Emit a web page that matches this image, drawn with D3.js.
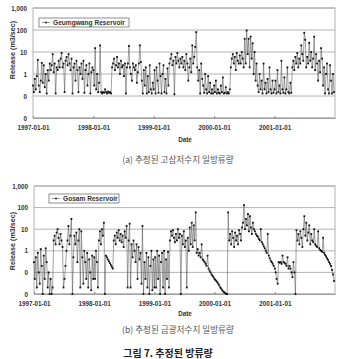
<!DOCTYPE html>
<html><head><meta charset="utf-8">
<script src="https://cdn.jsdelivr.net/npm/d3@7"></script>
<style>body{margin:0;background:#fff}svg{display:block}</style>
</head><body>
<svg id="c" width="338" height="359"></svg>
<script>
// ---- data ----
const years = [1997, 1998, 1999, 2000, 2001];
const xTickLabels = ["1997-01-01", "1998-01-01", "1999-01-01", "2000-01-01", "2001-01-01"];
const yTickValues = [0.01, 0.1, 1, 10, 100, 1000];
const seriesNames = ["Geumgwang Reservoir", "Gosam Reservoir"];
const captions = ["(a) 추정된 고삼저수지 일방류량", "(b) 추정된 금광저수지 일방류량"];
const figureTitle = "그림 7. 추정된 방류량";
const axisTitleY = "Release (m3/sec)";
const axisTitleX = "Date";

// Geumgwang Reservoir (panel a), ~6-day samples per year (m3/sec)
const geumgwang1997 = [0.3,0.15,0.6,0.2,0.8,4.4,0.3,0.15,0.5,3.2,0.4,2.5,0.25,1,0.13,1.5,0.5,3,1.5,2.5,8,1.2,3,0.13,2,1.5,4,2,5,9,2,3,0.15,4,6,2.5,8,3,1.5,5,0.13,2,3,0.5,4,1.5,0.15,2,1,3,0.6,4,0.14,1.5,2.5,0.3,1,3,0.13,1.2,2];
const geumgwang1998 = [1.5,0.3,15,0.2,1,0.15,0.4,20,0.15,0.13,0.15,0.14,0.2,0.15,0.13,0.16,0.14,0.15,0.13,2,3,5,1.5,2.5,6,2,3,1,4,2,2.5,0.8,3,0.13,2,3,19,2,1,0.5,3,2,1.5,2.5,0.4,1.2,3,20,3.5,0.5,0.13,1.5,0.3,2,0.13,0.8,0.15,2.5,0.2,0.13,0.4];
const geumgwang1999 = [0.2,1.5,0.13,2,0.5,0.14,3,0.8,0.13,1,2.5,0.15,0.6,0.13,1.8,0.3,3,5,8,2.5,4,0.12,6,3,9,4,2,5,3,6,2,4,1.5,8,3,0.5,2,5,1.2,20,3,6,17,80,2,0.5,1.5,0.13,3,0.6,0.3,0.14,1,0.2,0.13,0.8,0.15,0.4,0.13,0.2,0.13];
const geumgwang2000 = [0.3,0.15,0.5,0.13,0.2,0.14,0.13,0.3,0.15,0.7,0.13,0.14,0.25,0.13,0.15,0.13,0.2,2,5,8,3,6,1.5,9,4,3,7,3,10,5,2,40,3,95,8,40,2,50,5,25,1,10,0.5,3,0.3,0.15,1,0.2,0.5,0.13,3,0.2,0.4,0.13,0.6,0.15,2,0.2,0.13,0.5,0.14];
const geumgwang2001 = [0.2,0.5,0.13,1.5,0.15,0.3,0.13,4,0.2,0.14,0.7,0.13,0.2,2,0.15,0.13,0.4,0.14,2,4,1.5,6,3,9,2,5,3,20,8,4,75,36,2,6,3,26,4,10,2,5,50,1.5,8,3,0.5,4,1.2,15,5,0.3,2,0.13,1,3,0.2,0.13,2.5,0.5,0.13,1,0.15];

// Gosam Reservoir (panel b)
const gosam1997 = [0.3,0.05,0.5,0.02,0.8,0.1,0.03,1.2,0.2,0.01,0.6,0.05,1.3,0.3,0.02,0.1,0.01,0.05,0.01,0.02,3,5,2,7,10,4,2,6,3,1.5,0.02,0.05,0.2,1,3,14,2,5,30,0.01,0.5,5,2,7,0.3,3,10,0.02,8,0.5,0.03,1,0.3,0.05,0.8,0.02,0.4,0.1,0.015,0.6,0.05];
const gosam1998 = [0.5,0.05,1,0.3,0.02,3,8,2,10,5,20,0.01,0.6,0.5,0.4,0.33,0.27,0.22,0.18,0.15,3,5,2,7,4,9,3,6,2.5,5,1.5,8,4,14,0.02,3,18,0.02,2,0.5,3,1,0.3,2,0.05,1.5,0.4,0.8,0.03,14,0.01,0.3,0.05,0.8,0.02,0.5,0.01,0.2,1,0.015,0.4];
const gosam1999 = [0.02,0.5,0.02,1,0.05,0.6,0.01,0.3,0.8,0.02,1,0.01,0.4,0.05,0.9,0.02,3,8,5,9,4,2.5,6,3,10,4,6,0.01,5,2,8,1.5,3,0.02,4,1,12,2,20,1.5,15,3,60,0.8,1.2,0.6,0.8,0.5,2,0.4,0.35,0.3,0.25,0.2,0.6,0.15,0.12,0.1,0.08,0.07,0.06];
const gosam2000 = [0.05,0.045,0.04,0.035,0.03,0.025,0.02,0.018,0.015,0.013,0.012,0.011,0.01,0.01,60,3,6,2,8,4,1.5,7,3,5,2,9,6,3,12,20,130,10,30,15,50,8,40,12,6,20,10,8,6,5,4.5,3.5,3,10,2.5,2,1.6,1.3,1,0.8,6,0.6,0.45,0.35,0.3,0.25,0.2];
const gosam2001 = [0.15,0.1,0.05,0.03,0.3,0.28,0.3,0.25,0.6,0.3,0.28,0.25,0.2,0.5,0.15,0.2,0.15,0.1,0.06,0.3,0.1,0.01,9,3,6,2,8,4,1.5,10,40,5,20,3,7,15,2,6,3,2.5,10,2,1.7,1.5,8,1.3,1.1,1,0.9,4,0.8,0.65,0.55,0.45,0.38,0.3,0.25,0.2,0.13,0.08,0.04];

const geumgwangByYear = [geumgwang1997, geumgwang1998, geumgwang1999, geumgwang2000, geumgwang2001];
const gosamByYear = [gosam1997, gosam1998, gosam1999, gosam2000, gosam2001];

// ---- helpers ----
function toSeries(byYear) {
  const out = [];
  byYear.forEach((arr, k) => {
    const start = new Date(years[k], 0, 1);
    const n = arr.length;
    arr.forEach((v, i) => {
      out.push({ date: d3.timeDay.offset(start, Math.floor(i * 365 / n)), value: v });
    });
  });
  return out;
}

const svg = d3.select("#c");
const FONT = "'Liberation Sans', Arial, sans-serif";
const KFONT = "'Noto Sans CJK KR', sans-serif";

function panel(cfg) {
  const data = toSeries(cfg.byYear);
  const x = d3.scaleTime()
    .domain([new Date(1997, 0, 1), new Date(2002, 0, 1)])
    .range([cfg.left, cfg.right]);
  const y = d3.scaleLog().domain([0.01, 1000]).range([cfg.bottom, cfg.top]);
  const g = svg.append("g");

  // gridlines
  g.append("g").selectAll("line").data(yTickValues).join("line")
    .attr("x1", cfg.left).attr("x2", cfg.right)
    .attr("y1", d => y(d)).attr("y2", d => y(d))
    .attr("stroke", "#a0a0a0").attr("stroke-width", 0.8);

  // plot border
  g.append("rect").attr("x", cfg.left).attr("y", cfg.top)
    .attr("width", cfg.right - cfg.left).attr("height", cfg.bottom - cfg.top)
    .attr("fill", "none").attr("stroke", "#a0a0a0").attr("stroke-width", 0.8);

  // y axis
  const yAxis = d3.axisLeft(y).tickValues(yTickValues).tickFormat(d3.format(",.0f")).tickSize(0).tickPadding(6);
  const ya = g.append("g").attr("transform", `translate(${cfg.left},0)`).call(yAxis);
  ya.select(".domain").remove();
  ya.selectAll("text").attr("font-family", FONT).attr("font-weight", "bold")
    .attr("font-size", 6.3).attr("fill", "#333");

  // x axis
  const tickDates = xTickLabels.map(s => d3.timeParse("%Y-%m-%d")(s));
  const xAxis = d3.axisBottom(x).tickValues(tickDates)
    .tickFormat(d3.timeFormat("%Y-%m-%d")).tickSizeInner(-2).tickSizeOuter(0).tickPadding(8);
  const xa = g.append("g").attr("transform", `translate(0,${cfg.bottom})`).call(xAxis);
  xa.select(".domain").attr("stroke", "#a0a0a0");
  xa.selectAll(".tick line").attr("stroke", "#888");
  xa.selectAll("text").attr("font-family", FONT).attr("font-weight", "bold")
    .attr("font-size", 6.3).attr("fill", "#333");

  // series
  const line = d3.line().x(d => x(d.date)).y(d => y(d.value));
  g.append("path").datum(data).attr("d", line)
    .attr("fill", "none").attr("stroke", "#444").attr("stroke-width", 0.5);
  g.append("g").selectAll("rect").data(data).join("rect")
    .attr("x", d => x(d.date) - 0.9).attr("y", d => y(d.value) - 0.9)
    .attr("width", 1.8).attr("height", 1.8).attr("fill", "#111");

  // axis titles
  g.append("text").attr("transform", `translate(${cfg.yTitleX},${cfg.yTitleY}) rotate(-90)`)
    .attr("text-anchor", "middle").attr("dominant-baseline", "central")
    .attr("font-family", FONT).attr("font-weight", "bold").attr("font-size", 7.2)
    .attr("fill", "#333").text(axisTitleY);
  g.append("text").attr("x", cfg.dateX).attr("y", cfg.dateY)
    .attr("text-anchor", "middle").attr("dominant-baseline", "central")
    .attr("font-family", FONT).attr("font-weight", "bold").attr("font-size", 6.3)
    .attr("fill", "#333").text(axisTitleX);

  // legend
  const lg = g.append("g");
  lg.append("rect").attr("x", cfg.legX).attr("y", cfg.legY).attr("width", cfg.legW).attr("height", 9)
    .attr("fill", "#fff").attr("stroke", "#444").attr("stroke-width", 0.6);
  const ly = cfg.legY + 4.5;
  lg.append("line").attr("x1", cfg.legX + 3).attr("x2", cfg.legX + 11).attr("y1", ly).attr("y2", ly)
    .attr("stroke", "#555").attr("stroke-width", 0.6);
  lg.append("rect").attr("x", cfg.legX + 6.2).attr("y", ly - 0.8).attr("width", 1.6).attr("height", 1.6).attr("fill", "#111");
  lg.append("text").attr("x", cfg.legX + 14).attr("y", ly)
    .attr("dominant-baseline", "central").attr("font-family", FONT).attr("font-weight", "bold")
    .attr("font-size", 6.6).attr("fill", "#333").text(cfg.name);

  // caption
  g.append("text").attr("x", 178).attr("y", cfg.capY).attr("text-anchor", "middle")
    .attr("dominant-baseline", "central").attr("font-family", KFONT).attr("font-size", 8.6)
    .attr("fill", "#555").text(cfg.caption);
}

panel({ byYear: geumgwangByYear, name: seriesNames[0], caption: captions[0],
  left: 33, right: 335, top: 8, bottom: 118,
  yTitleX: 12, yTitleY: 50, dateX: 185, dateY: 139, legX: 39, legY: 18, legW: 90, capY: 159 });
panel({ byYear: gosamByYear, name: seriesNames[1], caption: captions[1],
  left: 34, right: 335, top: 186, bottom: 294,
  yTitleX: 12, yTitleY: 241, dateX: 185, dateY: 313, legX: 49, legY: 194, legW: 70, capY: 329 });

svg.append("text").attr("x", 168).attr("y", 352).attr("text-anchor", "middle")
  .attr("dominant-baseline", "central").attr("font-family", KFONT).attr("font-weight", "bold")
  .attr("font-size", 10).attr("fill", "#222").text(figureTitle);
</script>
</body></html>
